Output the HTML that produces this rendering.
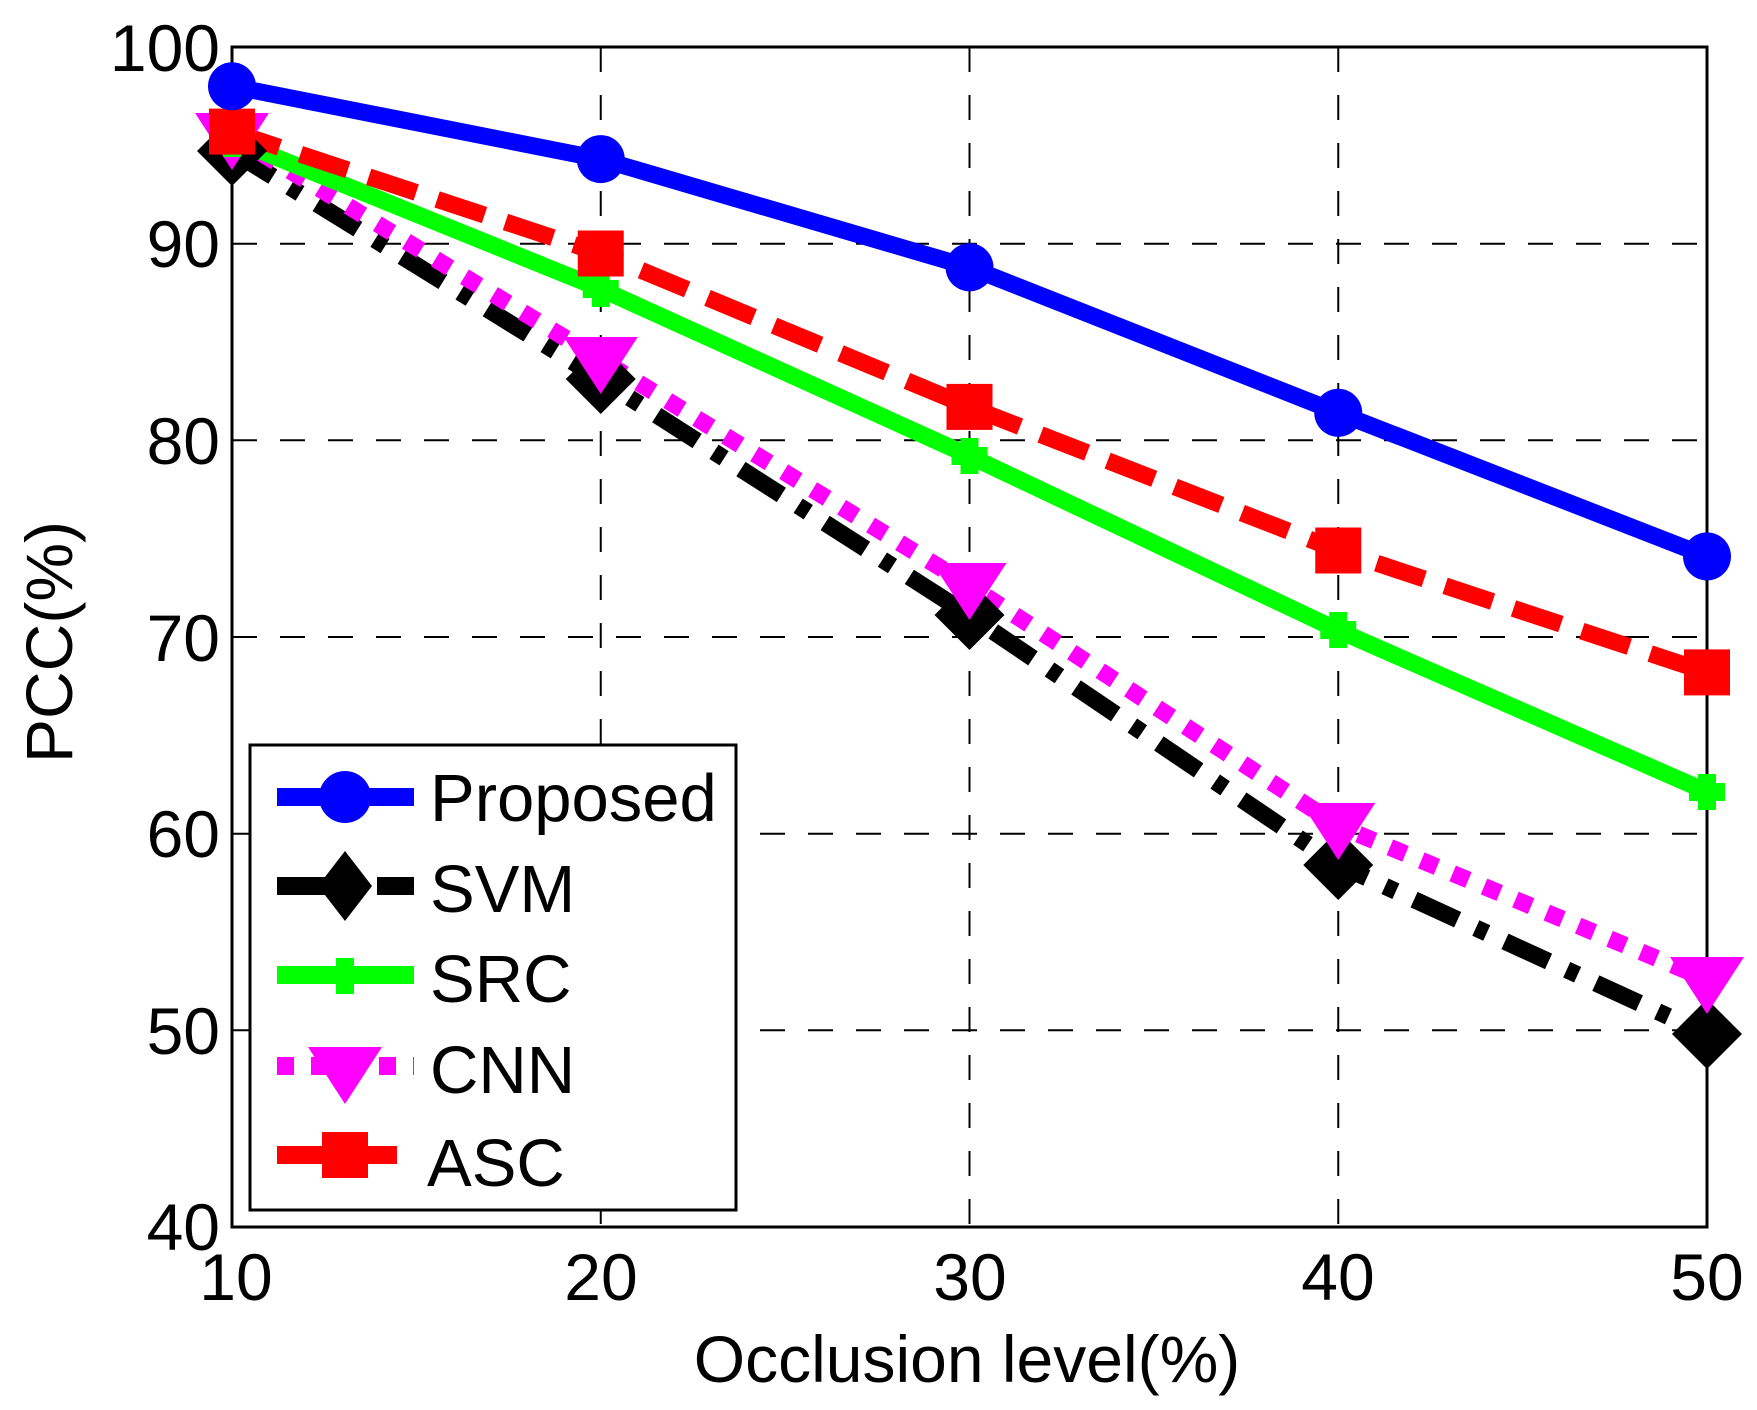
<!DOCTYPE html>
<html><head><meta charset="utf-8"><style>
html,body{margin:0;padding:0;background:#fff;}
svg{display:block;}
text{font-family:"Liberation Sans",Arial,sans-serif;fill:#000;}
</style></head><body>
<svg width="1757" height="1410" viewBox="0 0 1757 1410" xmlns="http://www.w3.org/2000/svg">
<defs>
<clipPath id="c"><rect x="232" y="47" width="1475" height="1180"/></clipPath>
</defs>
<rect width="1757" height="1410" fill="#fff"/>
<!-- grid -->
<g stroke="#000" stroke-width="2" stroke-dasharray="25,23" fill="none">
<line x1="232" y1="243.7" x2="1707" y2="243.7"/>
<line x1="232" y1="440.3" x2="1707" y2="440.3"/>
<line x1="232" y1="637" x2="1707" y2="637"/>
<line x1="232" y1="833.7" x2="1707" y2="833.7"/>
<line x1="232" y1="1030.3" x2="1707" y2="1030.3"/>
<line x1="600.75" y1="47" x2="600.75" y2="1227"/>
<line x1="969.5" y1="47" x2="969.5" y2="1227"/>
<line x1="1338.25" y1="47" x2="1338.25" y2="1227"/>
</g>
<rect x="232" y="47" width="1475" height="1180" fill="none" stroke="#000" stroke-width="3"/>
<!-- tick labels -->
<g font-size="66" text-anchor="end">
<text x="220" y="71">100</text>
<text x="220" y="267">90</text>
<text x="220" y="464">80</text>
<text x="220" y="661">70</text>
<text x="220" y="857">60</text>
<text x="220" y="1054">50</text>
<text x="220" y="1250">40</text>
</g>
<g font-size="66" text-anchor="middle">
<text x="236" y="1300">10</text>
<text x="601" y="1300">20</text>
<text x="970" y="1300">30</text>
<text x="1338" y="1300">40</text>
<text x="1707" y="1300">50</text>
</g>
<text x="967" y="1382" font-size="66" text-anchor="middle">Occlusion level(%)</text>
<text transform="translate(72,642) rotate(-90)" font-size="66" text-anchor="middle">PCC(%)</text>

<g clip-path="url(#c)" fill="none" stroke-linejoin="miter">
<!-- SVM -->
<polyline points="232,151.3 600.75,379.3 969.5,615.4 1338.25,864.8 1707,1034.2" stroke="#000" stroke-width="17" stroke-dasharray="48,20,12,20"/>
<!-- CNN -->
<polyline points="232,135.5 600.75,359.6 969.5,585.6 1338.25,825.8 1707,979.3" stroke="#f0f" stroke-width="17" stroke-dasharray="17,17"/>
<!-- SRC -->
<polyline points="232,139.4 600.75,288.9 969.5,456 1338.25,630.4 1707,791.7" stroke="#0f0" stroke-width="17"/>
<!-- ASC -->
<polyline points="232,131.6 600.75,253.5 969.5,406.9 1338.25,550.5 1707,672.4" stroke="#f00" stroke-width="17" stroke-dasharray="50,22"/>
<!-- Proposed -->
<polyline points="232,86.3 600.75,159.1 969.5,267.3 1338.25,412.8 1707,556.4" stroke="#00f" stroke-width="17"/>
</g>
<!-- markers -->
<g fill="#000">
<polygon points="232,116 267,151 232,186 197,151"/>
<polygon points="600.75,344 635.75,379 600.75,414 565.75,379"/>
<polygon points="969.5,580 1004.5,615 969.5,650 934.5,615"/>
<polygon points="1338.25,830 1373.25,865 1338.25,900 1303.25,865"/>
<polygon points="1707,999 1742,1034 1707,1069 1672,1034"/>
</g>
<g fill="#f0f">
<polygon points="195,113 269,113 232,170"/>
<polygon points="563.75,337 637.75,337 600.75,394"/>
<polygon points="932.5,563 1006.5,563 969.5,620"/>
<polygon points="1301.25,803 1375.25,803 1338.25,860"/>
<polygon points="1670,957 1744,957 1707,1014"/>
</g>
<g fill="#0f0">
<path d="M223,121h18v36h-18z M214,130h36v18h-36z"/>
<path d="M591.75,271h18v36h-18z M582.75,280h36v18h-36z"/>
<path d="M960.5,438h18v36h-18z M951.5,447h36v18h-36z"/>
<path d="M1329.25,612h18v36h-18z M1320.25,621h36v18h-36z"/>
<path d="M1698,774h18v36h-18z M1689,783h36v18h-36z"/>
</g>
<g fill="#f00">
<rect x="209" y="108.6" width="46" height="46"/>
<rect x="577.75" y="230.5" width="46" height="46"/>
<rect x="946.5" y="383.9" width="46" height="46"/>
<rect x="1315.25" y="527.5" width="46" height="46"/>
<rect x="1684" y="649.4" width="46" height="46"/>
</g>
<g fill="#00f">
<circle cx="232" cy="86.3" r="24"/>
<circle cx="600.75" cy="159.1" r="24"/>
<circle cx="969.5" cy="267.3" r="24"/>
<circle cx="1338.25" cy="412.8" r="24"/>
<circle cx="1707" cy="556.4" r="24"/>
</g>

<!-- legend -->
<rect x="250" y="745" width="486" height="465" fill="#fff" stroke="#000" stroke-width="3"/>
<line x1="277" y1="797" x2="414" y2="797" stroke="#00f" stroke-width="18"/>
<circle cx="345" cy="797" r="26" fill="#00f"/>
<line x1="277" y1="886" x2="414" y2="886" stroke="#000" stroke-width="18" stroke-dasharray="48,20,12,20"/>
<polygon points="345,851 372,886 345,921 318,886" fill="#000"/>
<line x1="277" y1="975" x2="414" y2="975" stroke="#0f0" stroke-width="18"/>
<path d="M336,958h18v36h-18z" fill="#0f0"/>
<line x1="277" y1="1066" x2="414" y2="1066" stroke="#f0f" stroke-width="18" stroke-dasharray="17,17"/>
<polygon points="308,1047 382,1047 345,1104" fill="#f0f"/>
<line x1="277" y1="1155" x2="414" y2="1155" stroke="#f00" stroke-width="18" stroke-dasharray="120,17"/>
<rect x="322" y="1132" width="46" height="46" fill="#f00"/>
<g font-size="67">
<text x="430" y="821">Proposed</text>
<text x="430" y="912">SVM</text>
<text x="430" y="1002">SRC</text>
<text x="430" y="1093">CNN</text>
<text x="427" y="1186">ASC</text>
</g>
</svg>
</body></html>
